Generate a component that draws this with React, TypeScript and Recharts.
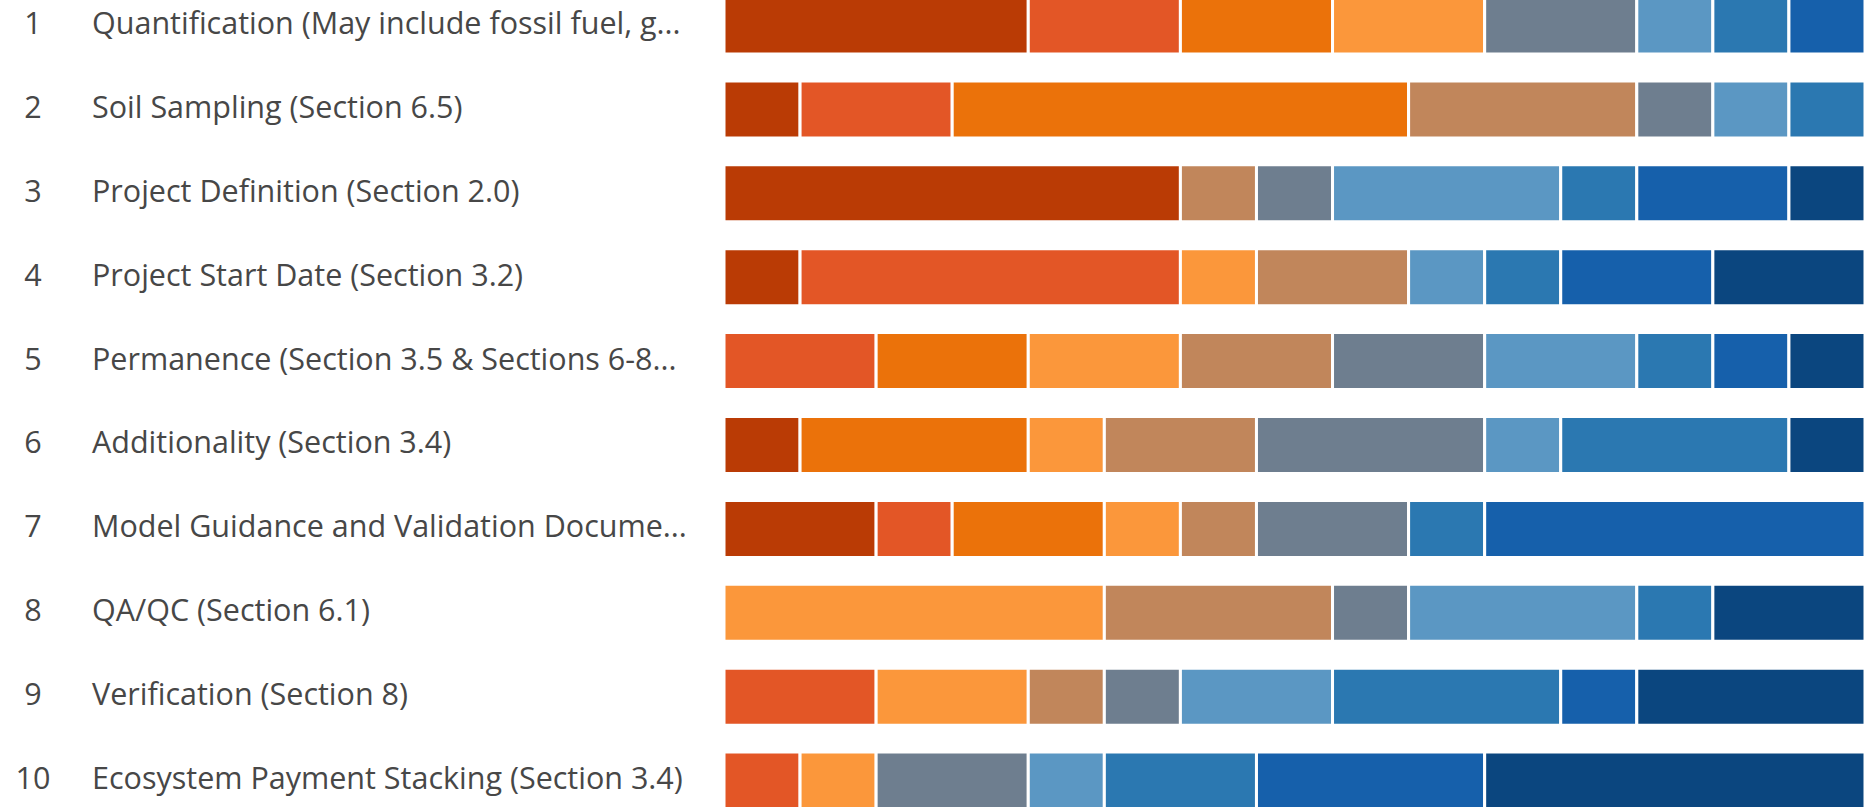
import { BarChart, Bar, XAxis, YAxis } from "recharts";

const topics = [
  "Quantification (May include fossil fuel, g...",
  "Soil Sampling (Section 6.5)",
  "Project Definition (Section 2.0)",
  "Project Start Date (Section 3.2)",
  "Permanence (Section 3.5 & Sections 6-8...",
  "Additionality (Section 3.4)",
  "Model Guidance and Validation Docume...",
  "QA/QC (Section 6.1)",
  "Verification (Section 8)",
  "Ecosystem Payment Stacking (Section 3.4)",
];

// how many respondents put each topic at rank N
const rank1 = [4, 1, 6, 1, 0, 1, 2, 0, 0, 0];
const rank2 = [2, 2, 0, 5, 2, 0, 1, 0, 2, 1];
const rank3 = [2, 6, 0, 0, 2, 3, 2, 0, 0, 0];
const rank4 = [2, 0, 0, 1, 2, 1, 1, 5, 2, 1];
const rank5 = [0, 3, 1, 2, 2, 2, 1, 3, 1, 0];
const rank6 = [2, 1, 1, 0, 2, 3, 2, 1, 1, 2];
const rank7 = [1, 1, 3, 1, 2, 1, 0, 3, 2, 1];
const rank8 = [1, 1, 1, 1, 1, 3, 1, 1, 3, 2];
const rank9 = [1, 0, 2, 2, 1, 0, 5, 0, 1, 3];
const rank10 = [0, 0, 1, 2, 1, 1, 0, 2, 3, 5];

const ranks = [rank1, rank2, rank3, rank4, rank5, rank6, rank7, rank8, rank9, rank10];

const colors = [
  "#BA3B05",
  "#E35626",
  "#EB720A",
  "#FB973B",
  "#C1865B",
  "#6E7E8F",
  "#5B97C3",
  "#2B78B1",
  "#1660AB",
  "#0B467F",
];

const data = topics.map((name, i) => {
  const row: Record<string, string | number> = { name };
  ranks.forEach((r, k) => {
    row[`r${k + 1}`] = r[i];
  });
  return row;
});

function RowLabel(props: any) {
  const { y, payload, index } = props;
  return (
    <g>
      <text
        x={33}
        y={y + 8}
        textAnchor="middle"
        fontSize={30.5}
        fill="#474747"
        fontFamily="'Open Sans', sans-serif"
      >
        {index + 1}
      </text>
      <text
        x={92}
        y={y + 8}
        textAnchor="start"
        fontSize={30.5}
        fill="#474747"
        fontFamily="'Open Sans', sans-serif"
      >
        {payload.value}
      </text>
    </g>
  );
}

export default function App() {
  return (
    <div
      style={{
        position: "fixed",
        left: 0,
        top: 0,
        width: 1865,
        height: 807,
        overflow: "hidden",
        background: "#fff",
      }}
    >
      <div style={{ position: "absolute", left: 0, top: -16 }}>
        <BarChart
          layout="vertical"
          width={1865}
          height={839}
          data={data}
          margin={{ top: 0, right: 0, bottom: 0, left: 0 }}
        >
          <XAxis type="number" hide domain={[0, 15]} />
          <YAxis
            type="category"
            dataKey="name"
            width={724}
            axisLine={false}
            tickLine={false}
            interval={0}
            tick={<RowLabel />}
          />
          {ranks.map((_r, k) => (
            <Bar
              key={k}
              dataKey={`r${k + 1}`}
              stackId="rank"
              fill={colors[k]}
              stroke="#fff"
              strokeWidth={3}
              barSize={57}
              isAnimationActive={false}
            />
          ))}
        </BarChart>
      </div>
    </div>
  );
}
